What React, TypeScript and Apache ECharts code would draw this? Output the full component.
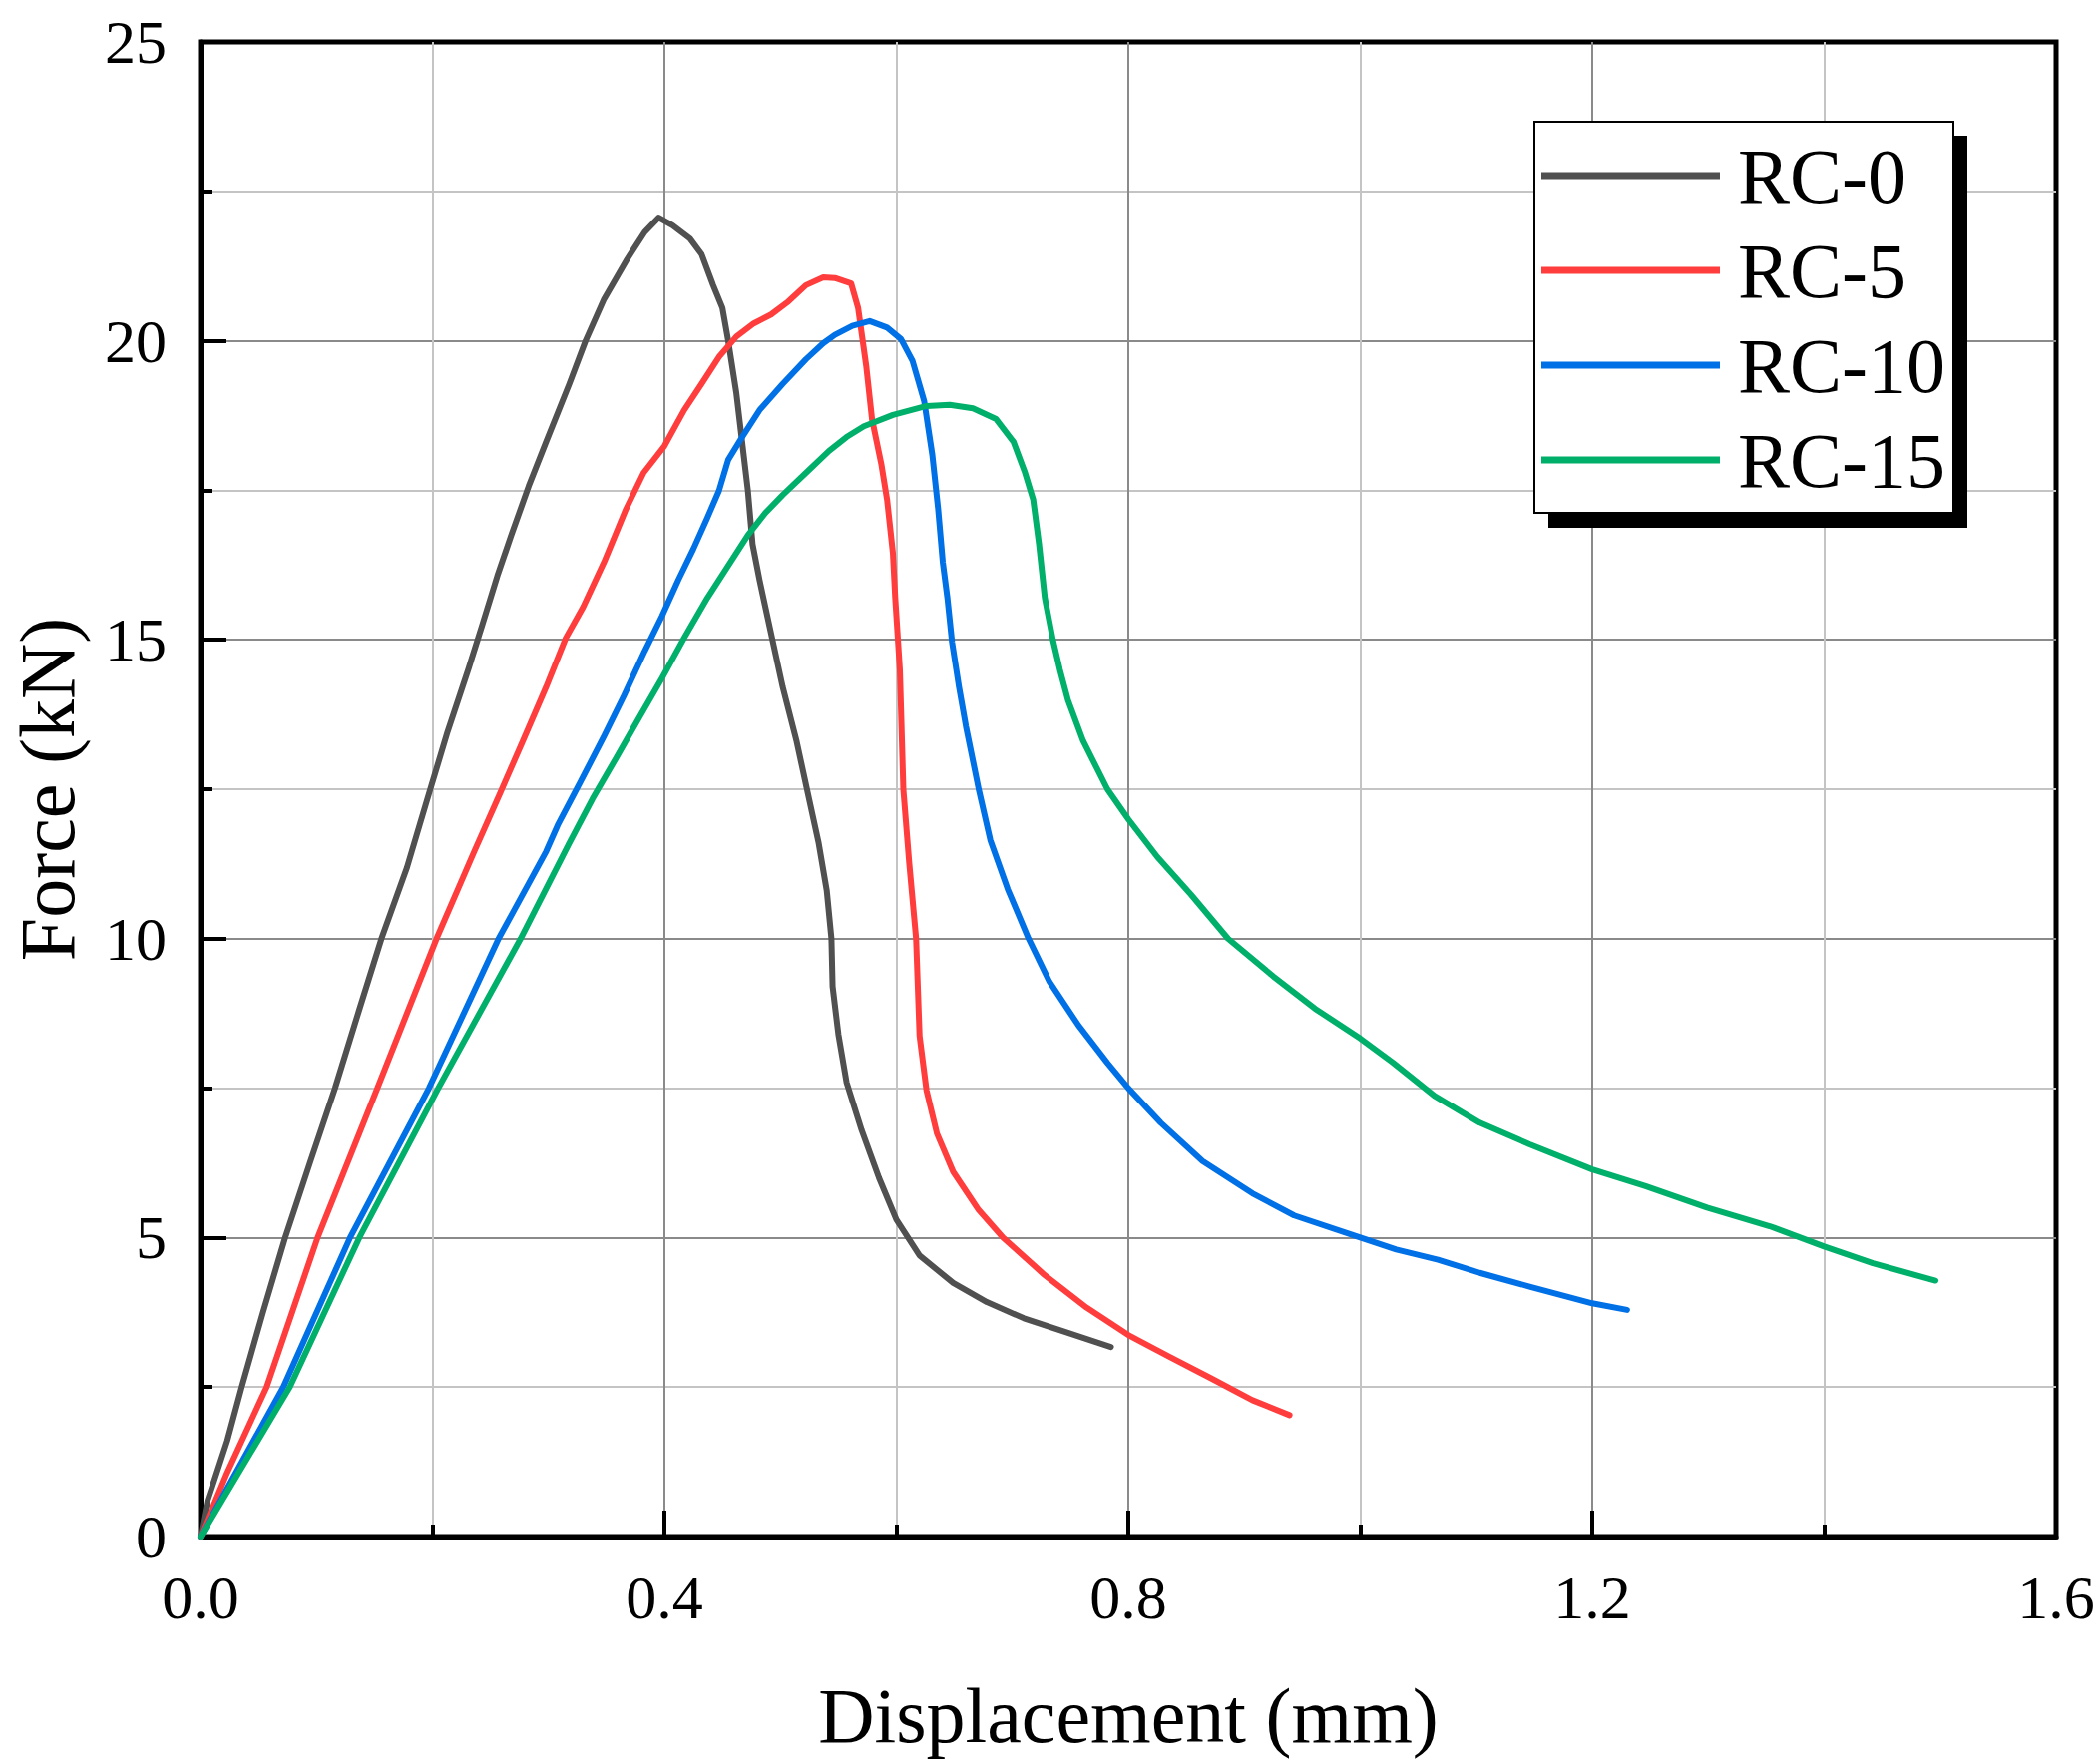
import React, { useEffect, useRef } from 'react';
import * as echarts from 'echarts';

// 荷载-位移曲线，数值从原图读出 [位移 mm, 力 kN]
const seriesNames = ['RC-0', 'RC-5', 'RC-10', 'RC-15'];
const seriesColors = ['#505050', '#ff3d3d', '#0070e6', '#00af6a'];

const rc0: number[][] = [
  [0, 0], [0.006, 0.6], [0.012, 0.95], [0.023, 1.6], [0.0355, 2.5], [0.054, 3.76],
  [0.073, 5.0], [0.095, 6.29], [0.116, 7.5], [0.137, 8.82], [0.156, 10.0], [0.178, 11.19],
  [0.195, 12.3], [0.213, 13.46], [0.231, 14.51], [0.243, 15.25], [0.256, 16.07],
  [0.268, 16.75], [0.283, 17.57], [0.298, 18.31], [0.318, 19.28], [0.332, 20.0],
  [0.348, 20.7], [0.368, 21.37], [0.383, 21.82], [0.395, 22.06], [0.407, 21.93],
  [0.422, 21.71], [0.432, 21.45], [0.442, 20.93], [0.45, 20.55], [0.455, 20.0],
  [0.462, 19.13], [0.467, 18.31], [0.472, 17.49], [0.476, 16.6], [0.482, 16.0],
  [0.492, 15.1], [0.502, 14.21], [0.514, 13.3], [0.524, 12.4], [0.533, 11.6],
  [0.54, 10.8], [0.544, 10.0], [0.545, 9.2], [0.55, 8.4], [0.557, 7.6], [0.57, 6.8],
  [0.585, 6.0], [0.6, 5.3], [0.62, 4.7], [0.649, 4.24], [0.678, 3.92], [0.71, 3.65],
  [0.746, 3.42], [0.785, 3.17],
];

const rc5: number[][] = [
  [0, 0], [0.023, 1.07], [0.057, 2.5], [0.101, 5.0], [0.1525, 7.5], [0.2035, 10.0],
  [0.236, 11.46], [0.258, 12.42], [0.278, 13.31], [0.298, 14.21], [0.315, 15.03],
  [0.33, 15.55], [0.348, 16.3], [0.367, 17.19], [0.382, 17.79], [0.4, 18.24],
  [0.417, 18.84], [0.432, 19.28], [0.447, 19.73], [0.462, 20.07], [0.477, 20.29],
  [0.492, 20.44], [0.507, 20.66], [0.522, 20.93], [0.537, 21.06], [0.547, 21.05],
  [0.561, 20.96], [0.567, 20.55], [0.574, 19.58], [0.579, 18.69], [0.587, 17.94],
  [0.592, 17.34], [0.597, 16.45], [0.599, 15.7], [0.603, 14.5], [0.606, 12.5],
  [0.611, 11.28], [0.617, 10.0], [0.62, 8.37], [0.626, 7.46], [0.635, 6.74],
  [0.649, 6.1], [0.671, 5.46], [0.692, 5.0], [0.728, 4.37], [0.764, 3.83], [0.8, 3.37],
  [0.835, 3.01], [0.871, 2.65], [0.907, 2.28], [0.939, 2.03],
];

const rc10: number[][] = [
  [0, 0], [0.0714, 2.5], [0.129, 5.0], [0.197, 7.5], [0.257, 10.0], [0.298, 11.46],
  [0.308, 11.9], [0.328, 12.64], [0.348, 13.39], [0.365, 14.06], [0.383, 14.81],
  [0.398, 15.4], [0.412, 16.0], [0.425, 16.52], [0.437, 17.04], [0.447, 17.49],
  [0.455, 18.01], [0.467, 18.39], [0.482, 18.84], [0.502, 19.28], [0.522, 19.69],
  [0.537, 19.96], [0.547, 20.1], [0.562, 20.25], [0.577, 20.33], [0.592, 20.22],
  [0.604, 20.03], [0.614, 19.66], [0.624, 18.99], [0.631, 18.09], [0.636, 17.19],
  [0.64, 16.3], [0.644, 15.7], [0.648, 14.96], [0.654, 14.21], [0.66, 13.55],
  [0.671, 12.5], [0.681, 11.65], [0.696, 10.83], [0.714, 10.0], [0.732, 9.28],
  [0.757, 8.55], [0.782, 7.92], [0.8, 7.5], [0.828, 6.92], [0.864, 6.28], [0.907, 5.74],
  [0.943, 5.37], [1.0, 5.0], [1.031, 4.8], [1.067, 4.63], [1.103, 4.41], [1.146, 4.18],
  [1.2, 3.9], [1.23, 3.79],
];

const rc15: number[][] = [
  [0, 0], [0.077, 2.5], [0.137, 5.0], [0.205, 7.5], [0.276, 10.0], [0.318, 11.6],
  [0.338, 12.34], [0.358, 13.01], [0.378, 13.69], [0.398, 14.36], [0.417, 15.03],
  [0.437, 15.7], [0.457, 16.3], [0.472, 16.75], [0.487, 17.12], [0.502, 17.42],
  [0.522, 17.79], [0.542, 18.16], [0.557, 18.39], [0.572, 18.57], [0.597, 18.76],
  [0.626, 18.91], [0.646, 18.93], [0.666, 18.87], [0.686, 18.69], [0.701, 18.31],
  [0.711, 17.79], [0.718, 17.34], [0.723, 16.6], [0.728, 15.7], [0.735, 15.0],
  [0.741, 14.5], [0.748, 13.99], [0.761, 13.31], [0.782, 12.5], [0.8, 12.0],
  [0.825, 11.37], [0.854, 10.74], [0.886, 10.0], [0.925, 9.37], [0.961, 8.83],
  [1.0, 8.33], [1.028, 7.93], [1.064, 7.37], [1.103, 6.92], [1.146, 6.56], [1.2, 6.14],
  [1.246, 5.86], [1.299, 5.5], [1.353, 5.19], [1.4, 4.85], [1.442, 4.57], [1.496, 4.28],
];

const curves = [rc0, rc5, rc10, rc15];

const FONT = '"Liberation Serif", "Times New Roman", serif';

const App: React.FC = () => {
  const chartRef = useRef<HTMLDivElement>(null);

  useEffect(() => {
    if (!chartRef.current) return;
    const chart = echarts.init(chartRef.current, undefined, { renderer: 'svg' });

    const axisCommon = {
      axisLine: { show: true, onZero: false, lineStyle: { color: '#000', width: 5 } },
      axisTick: { show: true, inside: true, length: 26, lineStyle: { color: '#000', width: 4 } },
      minorTick: { show: true, splitNumber: 2, length: 12, lineStyle: { color: '#000', width: 4 } },
      splitLine: {
        show: true,
        showMinLine: false,
        showMaxLine: false,
        lineStyle: { color: '#8a8a8a', width: 2 },
      },
      minorSplitLine: { show: true, lineStyle: { color: '#c4c4c4', width: 2 } },
      nameTextStyle: { fontFamily: FONT, fontSize: 78, color: '#000' },
    };

    chart.setOption({
      animation: false,
      backgroundColor: '#fff',
      grid: {
        left: 198,
        top: 42,
        right: 43,
        bottom: 228,
        show: true,
        borderColor: '#000',
        borderWidth: 5,
      },
      xAxis: {
        type: 'value',
        min: 0,
        max: 1.6,
        interval: 0.4,
        name: 'Displacement (mm)',
        nameLocation: 'middle',
        nameGap: 140,
        ...axisCommon,
        axisLabel: {
          fontFamily: FONT,
          fontSize: 62,
          color: '#000',
          margin: 30,
          formatter: (v: number) => v.toFixed(1),
        },
      },
      yAxis: {
        type: 'value',
        min: 0,
        max: 25,
        interval: 5,
        name: 'Force (kN)',
        nameLocation: 'middle',
        nameGap: 115,
        ...axisCommon,
        axisLabel: {
          fontFamily: FONT,
          fontSize: 62,
          color: '#000',
          margin: 34,
        },
      },
      legend: {
        data: seriesNames,
        orient: 'vertical',
        left: 1545,
        top: 137,
        padding: 0,
        itemGap: 17,
        icon: 'rect',
        itemWidth: 179,
        itemHeight: 7,
        z: 10,
        textStyle: {
          fontFamily: FONT,
          fontSize: 78,
          lineHeight: 78,
          color: '#000',
          padding: [0, 0, 0, 13],
        },
      },
      graphic: [
        {
          type: 'rect',
          z: 3,
          shape: { x: 1552, y: 136, width: 420, height: 393 },
          style: { fill: '#000' },
        },
        {
          type: 'rect',
          z: 4,
          shape: { x: 1538, y: 122, width: 420, height: 392 },
          style: { fill: '#fff', stroke: '#000', lineWidth: 2 },
        },
      ],
      series: curves.map((d, i) => ({
        name: seriesNames[i],
        type: 'line',
        data: d,
        showSymbol: false,
        symbol: 'none',
        smooth: false,
        color: seriesColors[i],
        lineStyle: { color: seriesColors[i], width: 6, cap: 'round', join: 'round' },
      })),
    });

    return () => {
      chart.dispose();
    };
  }, []);

  return (
    <div
      ref={chartRef}
      style={{ position: 'fixed', left: 0, top: 0, width: 2104, height: 1768 }}
    />
  );
};

export default App;
